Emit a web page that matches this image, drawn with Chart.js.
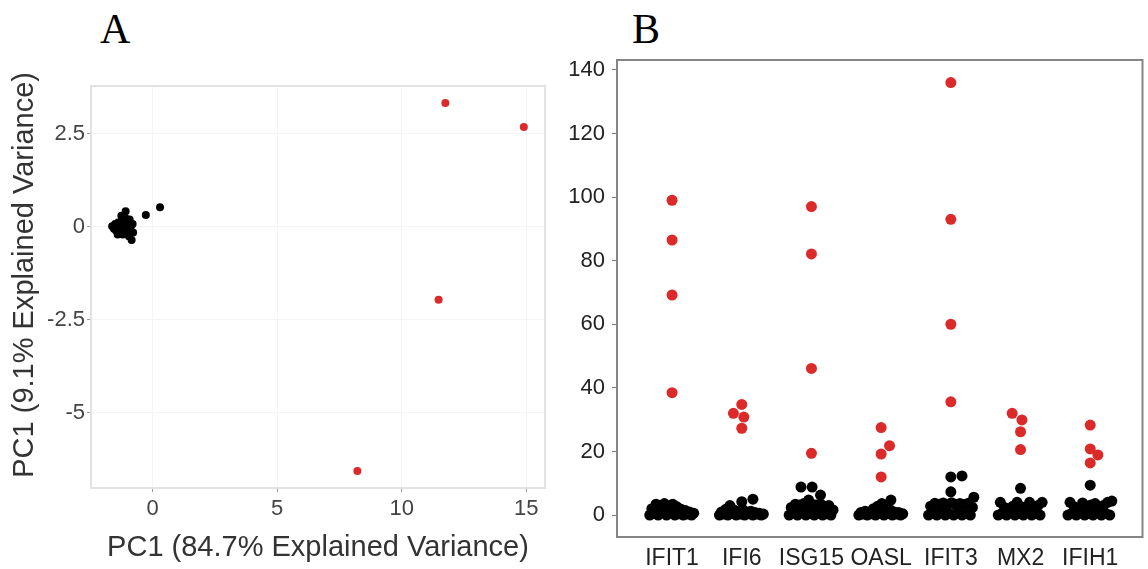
<!DOCTYPE html>
<html><head><meta charset="utf-8">
<script src="https://cdn.jsdelivr.net/npm/chart.js@4"></script>
<style>
html,body{margin:0;padding:0;background:#fff;width:1148px;height:569px;overflow:hidden;}
#wa{position:absolute;left:0;top:0;width:560px;height:569px;}
#wb{position:absolute;left:560px;top:0;width:588px;height:569px;}
.lab{position:absolute;font-family:"Liberation Serif","Times New Roman",serif;font-size:42px;color:#000;line-height:1;}
</style></head><body>
<div class="lab" style="left:100px;top:8px">A</div>
<div class="lab" style="left:632px;top:8px">B</div>
<div id="wa"><canvas id="ca" width="560" height="569"></canvas></div>
<div id="wb"><canvas id="cb" width="588" height="569"></canvas></div>
<script>
// ---------- Panel A data (PCA) ----------
const pc1TickValues = [0, 5, 10, 15];
const pc2TickValues = [-5, -2.5, 0, 2.5];
const blackPC1 = [-1.62,-1.55,-1.5,-1.46,-1.42,-1.38,-1.35,-1.3,-1.27,-1.24,-1.2,-1.18,-1.15,-1.12,-1.1,-1.08,-1.05,-1.02,-1.0,-0.97,-0.95,-0.92,-0.9,-0.87,-0.84,-0.8,-0.78,-1.25,-1.4,-0.27,0.30];
const blackPC2 = [0.02,-0.05,0.08,-0.1,0.0,0.12,-0.15,0.05,-0.08,0.18,-0.2,0.0,0.1,-0.12,0.25,0.42,-0.05,0.15,-0.18,0.05,-0.25,0.2,-0.1,0.02,-0.35,0.08,-0.15,0.3,-0.2,0.32,0.53];
const redPC1 = [11.75, 14.9, 11.48, 8.22];
const redPC2 = [3.33, 2.69, -1.96, -6.56];

// ---------- Panel B data (gene expression) ----------
const genes = ["IFIT1","IFI6","ISG15","OASL","IFIT3","MX2","IFIH1"];
const exprTickValues = [0, 20, 40, 60, 80, 100, 120, 140];
const jitter = [-0.32,-0.29,-0.26,-0.23,-0.2,-0.17,-0.14,-0.11,-0.08,-0.05,-0.02,0.01,0.04,0.07,0.1,0.13,0.16,0.19,0.22,0.25,0.28,0.31];
const lowValues = [
  [0,2.0,0.6,3.4,0,3.0,1.0,3.6,0,2.8,0.6,3.4,0,2.6,0.4,1.8,0,1.4,0.3,1.0,0,0.6],
  [0,1.0,0.3,1.8,0,3.0,0.5,1.6,0,0.8,0.3,1.8,0,1.0,0.4,1.2,0,0.8,0.3,0.6,0,0.3],
  [0,2.4,0.6,3.4,0,3.2,0.8,3.6,0,2.9,0.5,3.4,0,3.2,0.6,3.5,0,2.8,0.4,3.0,0,1.6],
  [0,0.8,0.3,1.2,0,1.0,0.4,2.0,0,2.8,0.6,3.6,0,2.4,0.5,1.6,0,1.0,0.3,0.8,0,0.4],
  [0,2.8,0.6,3.7,0,3.4,0.8,3.8,0,3.2,0.5,3.9,0,3.4,0.7,3.6,0,3.3,0.5,3.7,0,2.4],
  [0,4.0,0.6,2.4,0,2.0,0.7,2.8,0,4.0,0.5,2.6,0,2.4,0.7,4.0,0,2.2,0.5,3.0,0,4.0],
  [0,4.0,0.6,2.6,0,2.2,0.7,3.8,0,2.8,0.5,3.2,0,3.6,0.7,2.4,0,3.0,0.5,4.0,0,4.4]
];
const highValues = [[], [4.2,5.0], [8.8,8.8,6.3,4.7], [4.7], [12.0,12.3,7.3,5.6], [8.4], [9.4]];
const highJitter = [[], [0,0.16], [-0.15,0.01,0.13,-0.04], [0.14], [0,0.16,0,0.33], [0], [0]];
const redValues = [[99,86.5,69.2,38.5],[32,34.8,30.8,27.3],[97,82.1,46.1,19.4],[27.5,21.8,19.2,12.0],[136,93,60,35.6],[32,29.9,26.2,20.6],[28.3,20.8,18.9,16.4]];
const redJitter = [[0,0,0,0],[-0.12,0,0.03,0],[0,0,0,0],[0,0.12,0,0],[0,0,0,0],[-0.12,0.02,0,0],[0,0,0.11,0]];

// ---------- helpers ----------
const SANS = '"Liberation Sans", Arial, sans-serif';
const RED = '#dc2a2a';
const framePlugin = {
  id: 'frame',
  afterDraw(chart, args, opts) {
    const a = chart.chartArea, ctx = chart.ctx;
    ctx.save();
    ctx.strokeStyle = opts.color; ctx.lineWidth = opts.width;
    ctx.strokeRect(a.left, a.top, a.right - a.left, a.bottom - a.top);
    ctx.restore();
  }
};
Chart.register(framePlugin);

// ---------- Chart A ----------
new Chart(document.getElementById('ca'), {
  type: 'scatter',
  data: { datasets: [
    { data: blackPC1.map((x, i) => ({ x, y: blackPC2[i] })), backgroundColor: '#000', borderColor: '#000', borderWidth: 0, pointRadius: 4 },
    { data: redPC1.map((x, i) => ({ x, y: redPC2[i] })), backgroundColor: RED, borderColor: RED, borderWidth: 0, pointRadius: 4 }
  ]},
  options: {
    responsive: false, animation: false, devicePixelRatio: 1,
    layout: { padding: { left: 0, top: 86, right: 15, bottom: 0 } },
    plugins: { legend: { display: false }, tooltip: { enabled: false }, frame: { color: '#e2e2e2', width: 2 } },
    scales: {
      x: {
        type: 'linear', min: -2.47, max: 15.75,
        afterBuildTicks: s => { s.ticks = pc1TickValues.map(v => ({ value: v })); },
        afterFit: s => { s.height = 81; },
        grid: { color: '#f4f4f4', tickColor: '#9a9a9a', tickLength: 4, lineWidth: 1 },
        border: { display: false },
        ticks: { font: { family: SANS, size: 22 }, color: '#444', padding: 4, callback: v => String(v) },
        title: { display: true, text: 'PC1 (84.7% Explained Variance)', font: { family: SANS, size: 29 }, color: '#333', padding: { top: 0, bottom: 4 } }
      },
      y: {
        type: 'linear', min: -7.02, max: 3.79,
        afterBuildTicks: s => { s.ticks = pc2TickValues.map(v => ({ value: v })); },
        afterFit: s => { s.width = 91; },
        grid: { color: '#f4f4f4', tickColor: '#9a9a9a', tickLength: 4, lineWidth: 1 },
        border: { display: false },
        ticks: { font: { family: SANS, size: 22 }, color: '#444', padding: 2, callback: v => String(v) },
        title: { display: true, text: '\u00A0\u00A0\u00A0PC1 (9.1% Explained Variance)', font: { family: SANS, size: 29 }, color: '#333', padding: { top: 8, bottom: 0 } }
      }
    }
  }
});

// ---------- Chart B ----------
const blackPts = [];
genes.forEach((g, i) => {
  lowValues[i].forEach((v, j) => blackPts.push({ x: i + jitter[j], y: v }));
  highValues[i].forEach((v, k) => blackPts.push({ x: i + highJitter[i][k], y: v }));
});
const redPts = [];
genes.forEach((g, i) => redValues[i].forEach((v, k) => redPts.push({ x: i + redJitter[i][k], y: v })));

new Chart(document.getElementById('cb'), {
  type: 'scatter',
  data: { datasets: [
    { data: blackPts, backgroundColor: '#000', borderColor: '#000', borderWidth: 0, pointRadius: 5.5 },
    { data: redPts, backgroundColor: RED, borderColor: RED, borderWidth: 0, pointRadius: 5.5 }
  ]},
  options: {
    responsive: false, animation: false, devicePixelRatio: 1,
    layout: { padding: { left: 0, top: 60, right: 1, bottom: 0 } },
    plugins: { legend: { display: false }, tooltip: { enabled: false }, frame: { color: '#858585', width: 2 } },
    scales: {
      x: {
        type: 'linear', min: -0.79, max: 6.75,
        afterBuildTicks: s => { s.ticks = genes.map((g, i) => ({ value: i })); },
        afterFit: s => { s.height = 32; },
        grid: { display: false, drawTicks: false },
        border: { display: false },
        ticks: { font: { family: SANS, size: 23 }, color: '#222', padding: 8, callback: v => genes[v] }
      },
      y: {
        type: 'linear', min: -6.9, max: 143.1,
        afterBuildTicks: s => { s.ticks = exprTickValues.map(v => ({ value: v })); },
        afterFit: s => { s.width = 57; },
        grid: { drawOnChartArea: false, tickColor: '#777', tickLength: 5 },
        border: { display: false },
        ticks: { font: { family: SANS, size: 22 }, color: '#222', padding: 7, callback: v => String(v) }
      }
    }
  }
});
</script>
</body></html>
